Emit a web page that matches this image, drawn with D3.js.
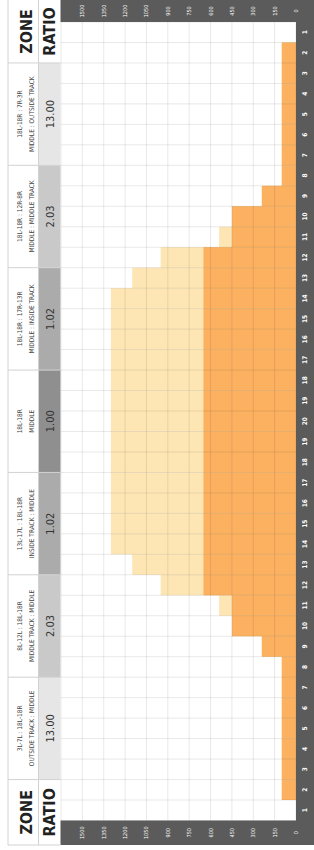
<!DOCTYPE html>
<html>
<head>
<meta charset="utf-8">
<script src="https://cdn.jsdelivr.net/npm/d3@7"></script>
<style>
  body { margin: 0; background: #fff; }
  svg { display: block; font-family: "Liberation Sans Narrow", "Arial Narrow", "DejaVu Sans Condensed", sans-serif; }
</style>
</head>
<body>
<div id="chart"></div>
<script>
// positions across the track, left to right (drawn turned a quarter turn)
let positions = [1, 2, 3, 4, 5, 6, 7, 8, 9, 10, 11, 12, 13, 14, 15, 16, 17, 18, 19, 20,
  19, 18, 17, 16, 15, 14, 13, 12, 11, 10, 9, 8, 7, 6, 5, 4, 3, 2, 1];
let baseValues = [0, 100, 100, 100, 100, 100, 100, 100, 240, 450, 450, 650, 650, 650, 650, 650, 650, 650, 650, 650,
  650, 650, 650, 650, 650, 650, 650, 650, 450, 450, 240, 100, 100, 100, 100, 100, 100, 100, 0];
let totalValues = [0, 100, 100, 100, 100, 100, 100, 100, 240, 450, 540, 950, 1150, 1300, 1300, 1300, 1300, 1300, 1300, 1300,
  1300, 1300, 1300, 1300, 1300, 1300, 1150, 950, 540, 450, 240, 100, 100, 100, 100, 100, 100, 100, 0];
let valueTicks = [0, 150, 300, 450, 600, 750, 900, 1050, 1200, 1350, 1500];
let zoneNames = ["3L-7L : 18L-18R", "8L-12L : 18L-18R", "13L-17L : 18L-18R", "18L-18R",
  "18L-18R : 17R-13R", "18L-18R : 12R-8R", "18L-18R : 7R-3R"];
let zoneTracks = ["OUTSIDE TRACK : MIDDLE", "MIDDLE TRACK : MIDDLE", "INSIDE TRACK : MIDDLE", "MIDDLE",
  "MIDDLE : INSIDE TRACK", "MIDDLE : MIDDLE TRACK", "MIDDLE : OUTSIDE TRACK"];
let ratios = ["13.00", "2.03", "1.02", "1.00", "1.02", "2.03", "13.00"];

// chart is laid out wide (850 x 314) and then rotated into the 314 x 850 page
let W = 850, H = 314;
let dark = "#5b5b5b";

let x = d3.scaleBand()
  .domain(d3.range(positions.length))
  .range([29.5, 828])
  .padding(0);

let y = d3.scaleLinear()
  .domain([0, 1650])
  .range([296, 61]);

let ratioColor = d3.scaleOrdinal()
  .domain(["13.00", "2.03", "1.02", "1.00"])
  .range(["#e6e6e6", "#c9c9c9", "#ababab", "#8f8f8f"]);

const svg = d3.select("#chart").append("svg")
  .attr("width", 314)
  .attr("height", 850);

const g = svg.append("g").attr("transform", `translate(0 ${W}) rotate(-90)`);

// bars
g.append("g").selectAll("rect")
  .data(totalValues)
  .join("rect")
  .attr("x", (d, i) => x(i))
  .attr("width", x.bandwidth())
  .attr("y", d => y(d))
  .attr("height", d => y(0) - y(d))
  .attr("fill", "#fde6b4");

g.append("g").selectAll("rect")
  .data(baseValues)
  .join("rect")
  .attr("x", (d, i) => x(i))
  .attr("width", x.bandwidth())
  .attr("y", d => y(d))
  .attr("height", d => y(0) - y(d))
  .attr("fill", "#fbb160");

// grid on top of the bars
const grid = g.append("g").attr("stroke", "rgba(0,0,0,0.09)").attr("stroke-width", 1);
grid.selectAll(".gv")
  .data(d3.range(0, 1651, 150))
  .join("line")
  .attr("x1", x.range()[0]).attr("x2", x.range()[1])
  .attr("y1", d => y(d)).attr("y2", d => y(d));
grid.selectAll(".gh")
  .data(d3.range(positions.length + 1))
  .join("line")
  .attr("x1", i => x.range()[0] + i * x.step())
  .attr("x2", i => x.range()[0] + i * x.step())
  .attr("y1", y(1650)).attr("y2", y(0));

// dark frame: category axis + two value axes
g.append("rect").attr("x", 5).attr("y", 296).attr("width", W - 5).attr("height", H - 296).attr("fill", dark);
g.append("rect").attr("x", 5).attr("y", 60.5).attr("width", x.range()[0] - 5).attr("height", H - 60.5).attr("fill", dark);
g.append("rect").attr("x", x.range()[1]).attr("y", 60.5).attr("width", W - x.range()[1]).attr("height", H - 60.5).attr("fill", dark);

g.append("g").selectAll("text")
  .data(positions)
  .join("text")
  .attr("x", (d, i) => x(i) + x.bandwidth() / 2)
  .attr("y", 305)
  .attr("text-anchor", "middle")
  .attr("dominant-baseline", "central")
  .attr("fill", "#fff")
  .attr("font-size", 6.5)
  .attr("font-weight", "bold")
  .text(d => d);

[17.25, (x.range()[1] + W) / 2].forEach(cx => {
  g.append("g").selectAll("text")
    .data(valueTicks)
    .join("text")
    .attr("x", cx)
    .attr("y", d => y(d))
    .attr("text-anchor", "middle")
    .attr("dominant-baseline", "central")
    .attr("fill", "#fff")
    .attr("font-size", 5.5)
    .text(d => d);
});

// zone / ratio table
let zoneTop = 8, ratioTop = 38.5, tableBottom = 60.5;
let cells = zoneNames.map((z, k) => ({
  x0: x(2 + 5 * k),
  x1: x(2 + 5 * k) + 5 * x.step(),
  name: z,
  track: zoneTracks[k],
  ratio: ratios[k]
}));
let headers = [{ x0: 5, x1: x(2) }, { x0: x(37), x1: W }];

const table = g.append("g");

table.selectAll(".rc")
  .data(cells)
  .join("rect")
  .attr("x", d => d.x0)
  .attr("y", ratioTop)
  .attr("width", d => d.x1 - d.x0)
  .attr("height", tableBottom - ratioTop)
  .attr("fill", d => ratioColor(d.ratio));

const borders = table.append("g").attr("stroke", "#d2d2d2").attr("stroke-width", 1).attr("fill", "none");
borders.append("line").attr("x1", 5).attr("x2", W).attr("y1", zoneTop).attr("y2", zoneTop);
borders.append("line").attr("x1", 5).attr("x2", W).attr("y1", ratioTop).attr("y2", ratioTop);
borders.selectAll(".sep")
  .data([5].concat(cells.map(d => d.x0), [x(37)]))
  .join("line")
  .attr("x1", d => d).attr("x2", d => d)
  .attr("y1", zoneTop).attr("y2", tableBottom);

table.selectAll(".zn")
  .data(cells)
  .join("text")
  .attr("x", d => (d.x0 + d.x1) / 2)
  .attr("y", 20)
  .attr("text-anchor", "middle")
  .attr("dominant-baseline", "central")
  .attr("fill", "#444")
  .attr("font-size", 6.5)
  .text(d => d.name);

table.selectAll(".zt")
  .data(cells)
  .join("text")
  .attr("x", d => (d.x0 + d.x1) / 2)
  .attr("y", 31.5)
  .attr("text-anchor", "middle")
  .attr("dominant-baseline", "central")
  .attr("fill", "#444")
  .attr("font-size", 6.5)
  .text(d => d.track);

table.selectAll(".rt")
  .data(cells)
  .join("text")
  .attr("x", d => (d.x0 + d.x1) / 2)
  .attr("y", 50)
  .attr("text-anchor", "middle")
  .attr("dominant-baseline", "central")
  .attr("fill", "#333")
  .attr("font-size", 11)
  .text(d => d.ratio);

headers.forEach(h => {
  table.append("text")
    .attr("x", (h.x0 + h.x1) / 2)
    .attr("y", 26.5)
    .attr("text-anchor", "middle")
    .attr("dominant-baseline", "central")
    .attr("font-size", 16)
    .attr("font-weight", "bold")
    .attr("fill", "#222")
    .text("ZONE");
  table.append("text")
    .attr("x", (h.x0 + h.x1) / 2)
    .attr("y", 49)
    .attr("text-anchor", "middle")
    .attr("dominant-baseline", "central")
    .attr("font-size", 16)
    .attr("font-weight", "bold")
    .attr("fill", "#222")
    .text("RATIO");
});
</script>
</body>
</html>
